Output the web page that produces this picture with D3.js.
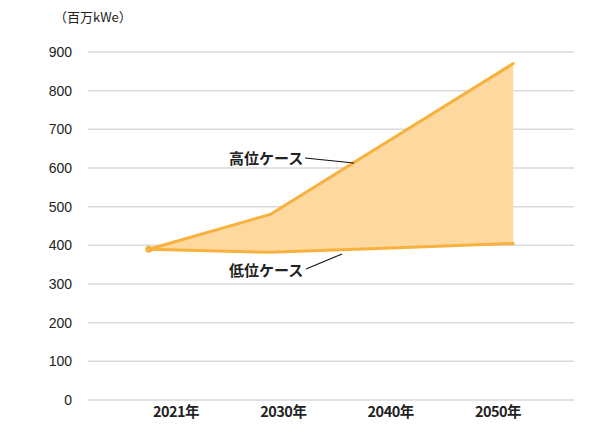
<!DOCTYPE html>
<html>
<head>
<meta charset="utf-8">
<script src="https://cdn.jsdelivr.net/npm/d3@7"></script>
<style>
  body { margin: 0; background: #fff; }
  svg { display: block; }
</style>
</head>
<body>
<script>
// categories on the x axis
var years = ["2021", "2030", "2040", "2050"];
var yearLabels = ["2021年", "2030年", "2040年", "2050年"];
// values (百万kWe)
var highCase = [390, 480, 675, 870];
var lowCase = [390, 382, 393, 405];
var yTicks = [0, 100, 200, 300, 400, 500, 600, 700, 800, 900];

var W = 593, H = 433;
var margin = { top: 52, right: 19, bottom: 33, left: 88 };

var svg = d3.select("body").append("svg")
  .attr("width", W)
  .attr("height", H);

var x = d3.scalePoint()
  .domain(years)
  .range([margin.left, W - margin.right])
  .padding(0.5);

// the year labels sit a bit off the data points in the original
var xLabel = d3.scalePoint()
  .domain(years)
  .range([176, 498]);

var y = d3.scaleLinear()
  .domain([0, 900])
  .range([H - margin.bottom, margin.top]);

// gridlines
svg.append("g")
  .selectAll("line")
  .data(yTicks)
  .join("line")
  .attr("x1", margin.left)
  .attr("x2", W - margin.right)
  .attr("y1", d => y(d))
  .attr("y2", d => y(d))
  .attr("stroke", "#d9d9d9")
  .attr("stroke-width", 1.5);

// y axis labels
svg.append("g")
  .selectAll("text")
  .data(yTicks)
  .join("text")
  .attr("x", 72)
  .attr("y", d => y(d))
  .attr("dy", "0.35em")
  .attr("text-anchor", "end")
  .attr("font-family", "Liberation Sans, Arial, sans-serif")
  .attr("font-size", 14)
  .attr("fill", "#222")
  .text(d => d);

// unit
svg.append("text")
  .attr("x", 54)
  .attr("y", 17)
  .attr("dy", "0.35em")
  .attr("font-family", "Noto Sans CJK JP, sans-serif")
  .attr("font-size", 13)
  .attr("fill", "#222")
  .text("（百万kWe）");

// x labels
svg.append("g")
  .selectAll("text")
  .data(years)
  .join("text")
  .attr("x", d => xLabel(d))
  .attr("y", 412)
  .attr("dy", "0.35em")
  .attr("text-anchor", "middle")
  .attr("font-family", "Noto Sans CJK JP, sans-serif")
  .attr("font-weight", "bold")
  .attr("font-size", 14.5)
  .attr("letter-spacing", -0.5)
  .attr("fill", "#222")
  .text((d, i) => yearLabels[i]);

var rows = years.map((d, i) => ({ year: d, hi: highCase[i], lo: lowCase[i] }));

// band between cases
var area = d3.area()
  .x(d => x(d.year))
  .y0(d => y(d.lo))
  .y1(d => y(d.hi));

svg.append("path")
  .datum(rows)
  .attr("d", area)
  .attr("fill", "#fdd9a0");

var lineHi = d3.line().x(d => x(d.year)).y(d => y(d.hi));
var lineLo = d3.line().x(d => x(d.year)).y(d => y(d.lo));

[lineHi, lineLo].forEach(function (ln) {
  svg.append("path")
    .datum(rows)
    .attr("d", ln)
    .attr("fill", "none")
    .attr("stroke", "#f8b13c")
    .attr("stroke-width", 3)
    .attr("stroke-linejoin", "round")
    .attr("stroke-linecap", "round");
});

// start marker
svg.append("circle")
  .attr("cx", x(years[0]))
  .attr("cy", y(highCase[0]))
  .attr("r", 3.5)
  .attr("fill", "#f8b13c");

// case annotations
var notes = [
  { text: "高位ケース", tx: 229, ty: 159, x1: 305, y1: 158, x2: 354, y2: 163 },
  { text: "低位ケース", tx: 229, ty: 271, x1: 306, y1: 269, x2: 342, y2: 254 }
];

notes.forEach(function (n) {
  svg.append("text")
    .attr("x", n.tx)
    .attr("y", n.ty)
    .attr("dy", "0.35em")
    .attr("font-family", "Noto Sans CJK JP, sans-serif")
    .attr("font-weight", "bold")
    .attr("font-size", 15)
    .attr("fill", "#222")
    .text(n.text);
  svg.append("line")
    .attr("x1", n.x1).attr("y1", n.y1)
    .attr("x2", n.x2).attr("y2", n.y2)
    .attr("stroke", "#111")
    .attr("stroke-width", 1.1);
});
</script>
</body>
</html>
